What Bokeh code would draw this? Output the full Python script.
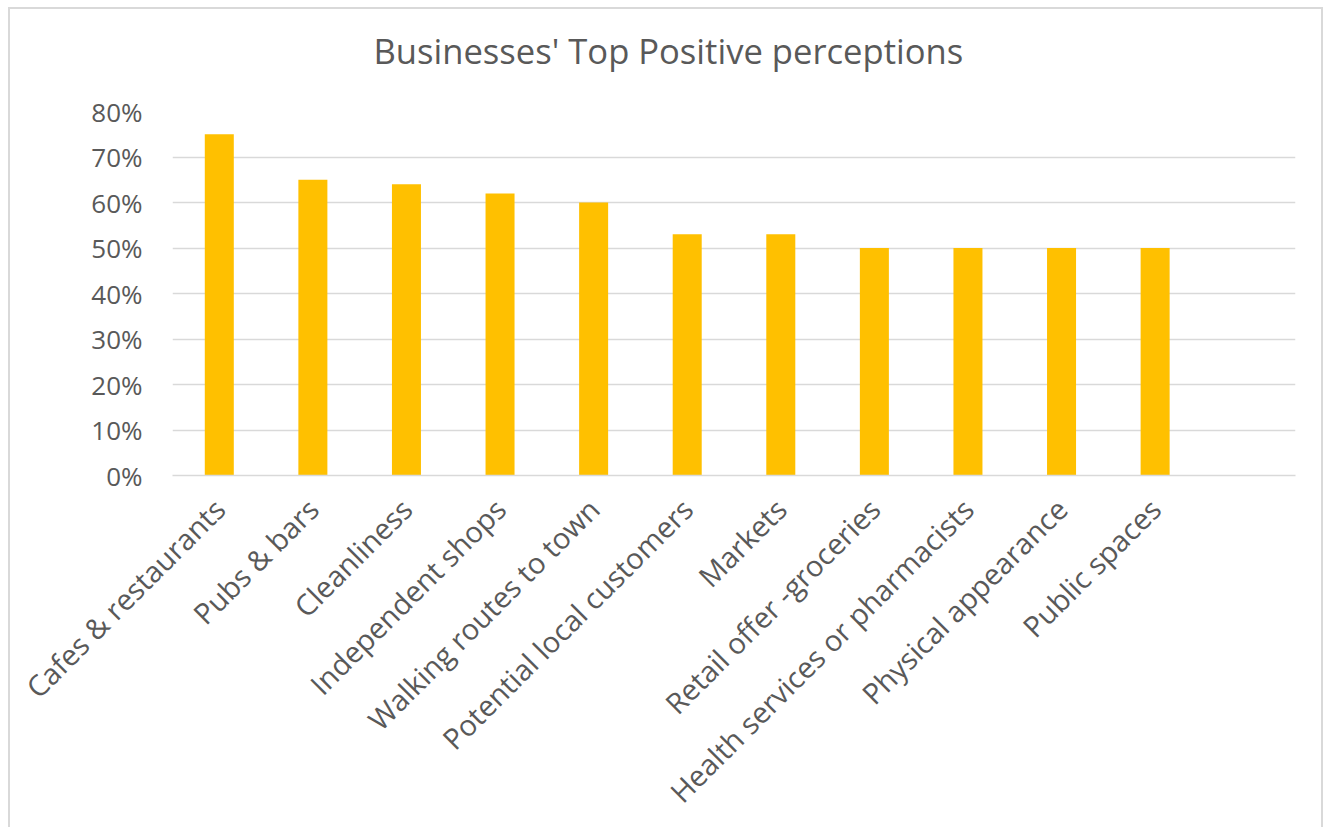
import math
from bokeh.plotting import figure
from bokeh.models import Range1d, FixedTicker, NumeralTickFormatter
from bokeh.embed import file_html
from bokeh.resources import INLINE

title_text = "Businesses' Top Positive perceptions"
categories = ["Cafes & restaurants", "Pubs & bars", "Cleanliness", "Independent shops",
              "Walking routes to town", "Potential local customers", "Markets",
              "Retail offer -groceries", "Health services or pharmacists",
              "Physical appearance", "Public spaces"]
values = [0.75, 0.65, 0.64, 0.62, 0.60, 0.53, 0.53, 0.50, 0.50, 0.50, 0.50]
y_ticks = [0.0, 0.1, 0.2, 0.3, 0.4, 0.5, 0.6, 0.7, 0.8]

n_slots = len(categories) + 1
xs = [i + 0.5 for i in range(len(categories))]

FONT = "Open Sans"
GREY = "#595959"
GRID = "#d9d9d9"

p = figure(width=1326, height=837, output_backend="svg", toolbar_location=None,
           x_range=Range1d(0, n_slots), y_range=Range1d(0, 0.8),
           min_border_left=172, min_border_right=31, min_border_top=121,
           min_border_bottom=352, title=title_text)
p.margin = (-10, 0, 0, 0)
p.styles = {"box-shadow": "inset 8px 17px 0 0 #ffffff, inset -3px 0 0 0 #ffffff, "
                          "inset 10px 19px 0 0 #d9d9d9, inset -5px 0 0 0 #d9d9d9"}
p.outline_line_color = None
p.background_fill_color = "white"
p.border_fill_color = None

p.title.align = "left"
p.title.offset = 201
p.title.vertical_align = "top"
p.title.standoff = 71
p.title.text_font = FONT
p.title.text_font_size = "34.6px"
p.title.text_font_style = "normal"
p.title.text_color = GREY

p.vbar(x=xs, top=values, width=0.31, bottom=0, fill_color="#ffc000", line_color=None)

# y axis
p.yaxis.ticker = FixedTicker(ticks=y_ticks)
p.yaxis.formatter = NumeralTickFormatter(format="0%")
p.yaxis.axis_line_color = None
p.yaxis.major_tick_line_color = None
p.yaxis.minor_tick_line_color = None
p.yaxis.major_label_text_font = FONT
p.yaxis.major_label_text_font_size = "26px"
p.yaxis.major_label_text_color = GREY
p.yaxis.major_label_standoff = 24

p.ygrid.ticker = FixedTicker(ticks=y_ticks)
p.ygrid.grid_line_color = GRID
p.ygrid.grid_line_width = 1.5
p.xgrid.grid_line_color = None

# x axis
p.xaxis.ticker = FixedTicker(ticks=xs)
p.xaxis.major_label_overrides = {x: c for x, c in zip(xs, categories)}
p.xaxis.major_label_orientation = math.pi / 4
p.xaxis.axis_line_color = GRID
p.xaxis.axis_line_width = 1.5
p.xaxis.major_tick_line_color = None
p.xaxis.minor_tick_line_color = None
p.xaxis.major_label_text_font = FONT
p.xaxis.major_label_text_font_size = "29px"
p.xaxis.major_label_text_color = GREY
p.xaxis.major_label_standoff = 22

open("out.html", "w").write(file_html(p, INLINE))
